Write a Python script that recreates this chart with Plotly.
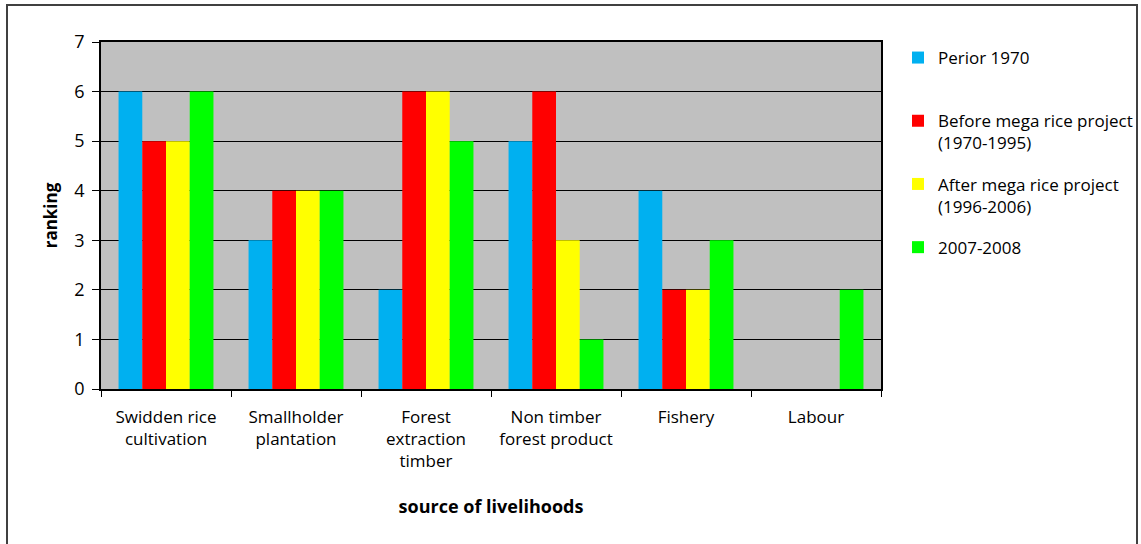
import plotly.graph_objects as go

categories = ["Swidden rice<br>cultivation", "Smallholder<br>plantation",
              "Forest<br>extraction<br>timber", "Non timber<br>forest product",
              "Fishery", "Labour"]
series_names = ["Perior 1970<br> ", "Before mega rice project<br>(1970-1995)",
                "After mega rice project<br>(1996-2006)", "2007-2008"]
perior_1970 = [6, 3, 2, 5, 4, None]
before_mrp = [5, 4, 6, 6, 2, None]
after_mrp = [5, 4, 6, 3, 2, None]
y2007_2008 = [6, 4, 5, 1, 3, 2]
colors = ["#00B0F0", "#FF0000", "#FFFF00", "#00FF00"]

FONT = "'Open Sans', sans-serif"

fig = go.Figure()
for i, (name, vals) in enumerate(zip(series_names, [perior_1970, before_mrp, after_mrp, y2007_2008])):
    fig.add_trace(go.Bar(x=categories, y=vals, name=name, marker_color=colors[i],
                         marker_line_width=0, legendgroup=str(i)))

W, H = 1141, 544
L, R, T, B = 101, 260, 42, 155
pw, ph = W - L - R, H - T - B

def px_x(x):
    return (x - L) / pw

def px_y(y):
    return (H - B - y) / ph

fig.update_layout(
    width=W, height=H,
    margin=dict(l=L, r=R, t=T, b=B, autoexpand=False),
    paper_bgcolor="white", plot_bgcolor="#C0C0C0",
    barmode="group", bargap=0.27, bargroupgap=0,
    font=dict(family=FONT, color="black", size=17),
    legend=dict(x=px_x(898), y=px_y(40), xanchor="left", yanchor="top",
                font=dict(size=17, family=FONT), tracegroupgap=16,
                valign="top", bgcolor="rgba(0,0,0,0)", itemwidth=30),
    showlegend=True,
    xaxis=dict(showline=True, linecolor="black", linewidth=1.5, mirror=True,
               ticks="outside", tickson="boundaries", ticklen=6, tickcolor="black",
               tickfont=dict(size=17), showgrid=False, ticklabelstandoff=12,
               title=dict(text="<b>source of livelihoods</b>", font=dict(size=18), standoff=29),
               automargin=False),
    yaxis=dict(range=[0, 7], dtick=1, showline=True, linecolor="black", linewidth=1.5,
               mirror=True, ticks="outside", ticklen=7, tickcolor="black",
               tickfont=dict(size=18), showgrid=True, gridcolor="black", gridwidth=1,
               zeroline=False, ticklabelstandoff=4,
               title=dict(text="<b>ranking</b>", font=dict(size=17), standoff=12),
               automargin=False),
)

fig.add_shape(type="rect", xref="paper", yref="paper",
              x0=px_x(7), x1=px_x(1137), y0=px_y(5), y1=px_y(560),
              line=dict(color="#404040", width=2), fillcolor="rgba(0,0,0,0)", layer="below")

fig.write_html("out.html")
